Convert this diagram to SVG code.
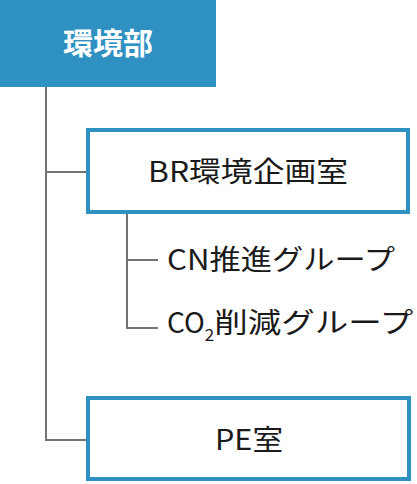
<svg xmlns="http://www.w3.org/2000/svg" width="417" height="484" viewBox="0 0 417 484">
<style>
.box{fill:#ffffff;stroke:#2f91c2;stroke-width:4}
.t{font-family:"Noto Sans CJK JP","Noto Sans",sans-serif;fill:#1a1a1a;font-size:28px}
.c{stroke:#737373;stroke-width:2;fill:none}
</style>
<rect width="417" height="484" fill="#ffffff"/>
<g id="connectors">
<path class="c" d="M46,87 V440 H88"/>
<path class="c" d="M46,172 H88"/>
<path class="c" stroke="#8a8a8a" d="M127,214 V328 H158"/>
<path class="c" stroke="#8a8a8a" d="M127,260 H158"/>
</g>
<g id="kankyobu">
<rect x="0" y="0" width="216" height="87" fill="#2f91c2"/>
<text x="108" y="54" text-anchor="middle" font-family="'Noto Sans CJK JP',sans-serif" font-weight="bold" font-size="30" fill="#ffffff">環境部</text>
</g>
<g id="br">
<rect class="box" x="88" y="130" width="320" height="82"/>
<text class="t" x="148" y="182" textLength="200" lengthAdjust="spacingAndGlyphs">BR環境企画室</text>
</g>
<g id="cn">
<text class="t" x="167" y="270" textLength="228" lengthAdjust="spacingAndGlyphs">CN推進グループ</text>
</g>
<g id="co2">
<text class="t" x="167" y="333">CO<tspan font-size="17" dy="8">2</tspan><tspan dy="-8" textLength="199" lengthAdjust="spacingAndGlyphs">削減グループ</tspan></text>
</g>
<g id="pe">
<rect class="box" x="88" y="398" width="321" height="81"/>
<text class="t" x="215" y="450" textLength="68" lengthAdjust="spacingAndGlyphs">PE室</text>
</g>
</svg>
